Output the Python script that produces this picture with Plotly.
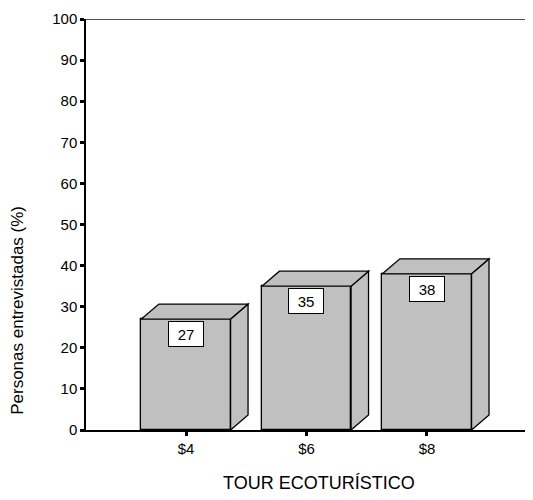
import plotly.graph_objects as go

categorias = ['$4', '$6', '$8']
porcentajes = [27, 35, 38]
y_ticks = list(range(0, 101, 10))

FONT = 'Liberation Sans, Arial, sans-serif'
GRIS = '#c0c0c0'

#3D look: depth of the bar in axis units
ancho = 0.74
dx, dy = 0.145, 3.65

fig = go.Figure()

#Front faces
fig.add_trace(go.Bar(
	x=list(range(len(categorias))), y=porcentajes, width=ancho,
	marker=dict(color=GRIS, line=dict(color='black', width=1.3)),
	hoverinfo='skip',
))

#Side and top faces
for i, v in enumerate(porcentajes):
	x0, x1 = i - ancho/2, i + ancho/2
	lado = f'M {x1},0 L {x1+dx},{dy} L {x1+dx},{v+dy} L {x1},{v} Z'
	tapa = f'M {x0},{v} L {x0+dx},{v+dy} L {x1+dx},{v+dy} L {x1},{v} Z'
	for p in (lado, tapa):
		fig.add_shape(type='path', path=p, xref='x', yref='y',
			fillcolor=GRIS, line=dict(color='black', width=1.3), layer='above')

	#Value label in a white box at the top of the front face
	fig.add_annotation(x=i, y=v, xref='x', yref='y', text=str(v), showarrow=False,
		yanchor='top', yshift=-2, width=32, height=22,
		bgcolor='white', bordercolor='black', borderwidth=1, borderpad=1,
		font=dict(family=FONT, size=15, color='black'))

#Top frame line
fig.add_shape(type='line', xref='paper', yref='y', x0=0, x1=1, y0=100, y1=100,
	line=dict(color='#505050', width=2))

#Axis titles
fig.add_annotation(xref='paper', yref='paper', x=0, xshift=-68, y=0.29,
	text='Personas entrevistadas (%)', textangle=-90, showarrow=False,
	xanchor='center', yanchor='middle', font=dict(family=FONT, size=17, color='black'))
fig.add_annotation(xref='paper', yref='paper', x=0.521, y=-0.129,
	text='TOUR ECOTURÍSTICO', showarrow=False,
	xanchor='center', yanchor='middle', font=dict(family=FONT, size=18, color='black'))

#page body has an 8px margin, so the figure is a bit smaller than the window
fig.update_layout(
	width=525, height=492,
	margin=dict(l=78, r=0, t=11, b=70, pad=0),
	paper_bgcolor='white', plot_bgcolor='white',
	showlegend=False, bargap=0,
	font=dict(family=FONT, size=15, color='black'),
	xaxis=dict(range=[-0.83, 2.88], tickmode='array', tickvals=list(range(len(categorias))),
		ticktext=categorias, showline=True, linecolor='black', linewidth=1.5,
		ticks='outside', ticklen=4, tickwidth=3, tickcolor='black',
		showgrid=False, zeroline=False, fixedrange=True),
	yaxis=dict(range=[0, 100], tickmode='array', tickvals=y_ticks,
		showline=True, linecolor='black', linewidth=1.5,
		ticks='outside', ticklen=4, tickwidth=3, tickcolor='black',
		showgrid=False, zeroline=False, fixedrange=True),
)

fig.write_html('out.html')
